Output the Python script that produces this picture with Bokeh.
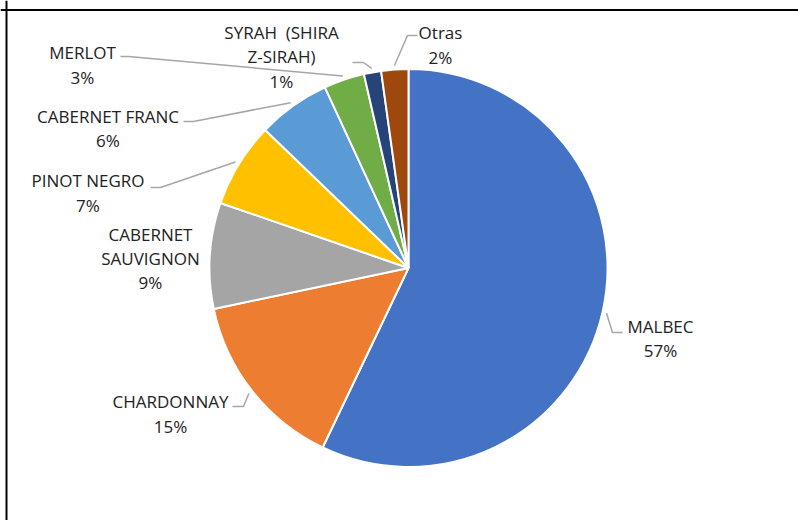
import math
from bokeh.plotting import figure
from bokeh.models import Range1d, ColumnDataSource, Span
from bokeh.core.properties import value
from bokeh.embed import file_html
from bokeh.resources import INLINE

# ---- data ----
varieties = ["MALBEC", "CHARDONNAY", "CABERNET\nSAUVIGNON", "PINOT NEGRO",
             "CABERNET FRANC", "MERLOT", "SYRAH \u00a0(SHIRA\nZ-SIRAH)", "Otras"]
shares = [57.1, 14.6, 8.6, 6.9, 5.9, 3.3, 1.4, 2.2]
colors = ["#4472C4", "#ED7D31", "#A5A5A5", "#FFC000",
          "#5B9BD5", "#70AD47", "#264478", "#9E480E"]

# ---- layout (page pixel positions of labels / leader elbows) ----
OFF = 0                               # page offset of the figure
W, H = 798, 520
CX, CY, R = 408, 267.5, 199          # pie centre (page px) and radius
label_centres = [(660, 338), (170, 413.5), (150, 258), (87.5, 192.5),
                 (107.5, 128), (82, 64.5), (281, 56.5), (440, 44.5)]
leader_elbows = [[(612, 332), (622, 332)], [(243, 406), (232, 406)], None,
                 [(160, 187), (150, 187)], [(193, 121), (183, 121)],
                 [(128, 56), (120, 56)], [(363, 62), (352, 62)],
                 [(407, 35), (417, 35)]]


def to_data(px, py):
    return px - CX, CY - py


p = figure(width=W, height=H, output_backend="svg", toolbar_location=None,
           x_axis_type=None, y_axis_type=None,
           x_range=Range1d(OFF - CX, OFF - CX + W),
           y_range=Range1d(CY - OFF - H, CY - OFF),
           min_border=0)
p.outline_line_color = None
p.grid.visible = False
p.background_fill_color = "white"

total = sum(shares)
starts, ends, mids = [], [], []
cum = 0.0
for s in shares:
    f0 = cum / total
    cum += s
    f1 = cum / total
    starts.append(math.pi / 2 - 2 * math.pi * f0)
    ends.append(math.pi / 2 - 2 * math.pi * f1)
    mids.append(math.pi / 2 - 2 * math.pi * (f0 + f1) / 2)

src = ColumnDataSource(dict(start=starts, end=ends, color=colors))
p.wedge(x=0, y=0, radius=R, start_angle="start", end_angle="end",
        direction="clock", fill_color="color", line_color="white",
        line_width=2, source=src)

# leader lines
for i, el in enumerate(leader_elbows):
    if el is None:
        continue
    sx = (R + 4) * math.cos(mids[i])
    sy = (R + 4) * math.sin(mids[i])
    xs = [sx] + [to_data(*pt)[0] for pt in el]
    ys = [sy] + [to_data(*pt)[1] for pt in el]
    p.line(xs, ys, line_color="#A6A6A6", line_width=1.5)

# labels
texts = [f"{n}\n{int(v + 0.5)}%" for n, v in zip(varieties, shares)]
lx = [to_data(*c)[0] for c in label_centres]
ly = [to_data(*c)[1] for c in label_centres]
p.text(x=lx, y=ly, text=texts, text_align="center", text_baseline="middle",
       text_font=value("Open Sans"), text_font_size="17px",
       text_color="#222222", text_line_height=1.06)

# chart frame (top and left edges visible in the crop)
p.add_layout(Span(location=CY - 9.5, dimension="width", line_color="black", line_width=2))
p.add_layout(Span(location=6 - CX, dimension="height", line_color="black", line_width=2))

open("out.html", "w").write(file_html(p, INLINE))
